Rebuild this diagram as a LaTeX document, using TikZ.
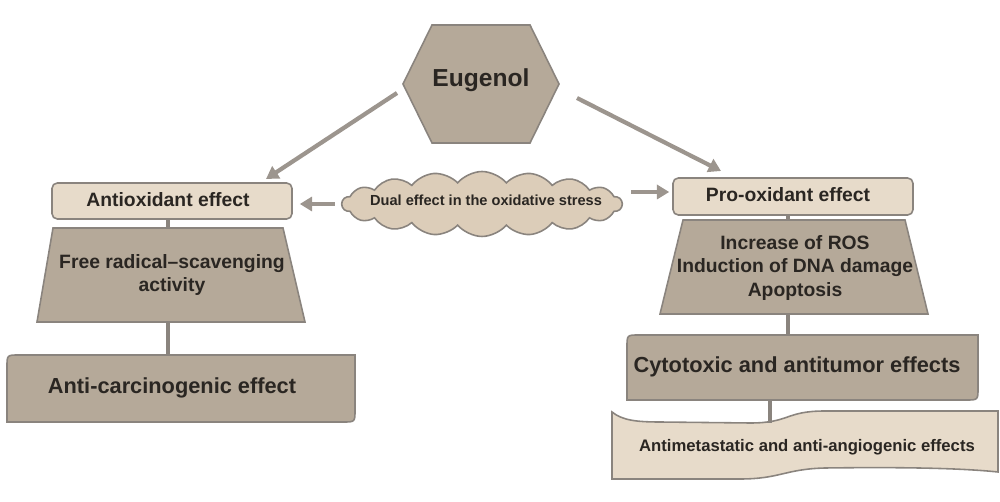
\documentclass[tikz,border=0pt]{standalone}
\usepackage{fontspec}
\setmainfont{Liberation Sans}
\usetikzlibrary{shapes.symbols,arrows.meta,calc}
\definecolor{darktan}{HTML}{B5A999}
\definecolor{lighttan}{HTML}{E7DBCA}
\definecolor{cloudtan}{HTML}{DCCDB9}
\definecolor{edge}{HTML}{8A847E}
\definecolor{arrowgray}{HTML}{9C958E}
\definecolor{txt}{HTML}{2A2622}
\begin{document}
\begin{tikzpicture}[x=0.02cm,y=-0.02cm,
  shapeline/.style={draw=edge, line width=0.9pt},
  lightbox/.style={shapeline, fill=lighttan, rounded corners=3pt, inner sep=0pt},
  darkshape/.style={shapeline, fill=darktan},
  lbl/.style={text=txt, align=center, inner sep=0pt},
  arrowline/.style={draw=arrowgray, line width=2.4pt, -{Triangle[length=7pt,width=8pt]}},
  link/.style={draw=edge, line width=1.8pt}]
\useasboundingbox (0,0) rectangle (1000,502);

% Eugenol hexagon
\path[darkshape] (432,25) -- (530,25) -- (559,84) -- (530,143) -- (432,143) -- (403,84) -- cycle;
\node[lbl, font=\bfseries\fontsize{14}{16}\selectfont] (eugenol) at (481,80) {Eugenol};
\coordinate (eL) at (397,93);
\coordinate (eR) at (577,98);

% cloud
\node[cloud, cloud puffs=18, cloud puff arc=100, aspect=4.1, draw=edge, line width=0.9pt,
      fill=cloudtan, minimum width=5.6cm, minimum height=1.3cm, inner sep=0pt] (cloud) at (482,204) {};
\node[lbl, font=\bfseries\fontsize{8.3}{10}\selectfont] (dual) at (486,200) {Dual effect in the oxidative stress};

% left branch
\node[lightbox, minimum width=4.8cm, minimum height=0.72cm] (antiox) at (172,201) {};
\node[lbl, font=\bfseries\fontsize{11}{13}\selectfont] (antioxt) at (168,200) {Antioxidant effect};
\path[darkshape] (53,228) -- (283,228) -- (305,322) -- (37,322) -- cycle;
\coordinate (tlTop) at (168,228);
\coordinate (tlBot) at (168,322);
\node[lbl, font=\bfseries\fontsize{11}{13.6}\selectfont] (free) at (172,275) {Free radical–scavenging\\activity};
\path[darkshape] (7,422) -- (7,367) .. controls (7,355) .. (19,355) -- (355,355) -- (355,410) .. controls (355,422) .. (343,422) -- cycle;
\coordinate (acTop) at (168,355);
\node[lbl, font=\bfseries\fontsize{12.4}{14}\selectfont] (anticarc) at (172,388) {Anti-carcinogenic effect};

% right branch
\node[lightbox, minimum width=4.8cm, minimum height=0.74cm] (pro) at (793,196.5) {};
\node[lbl, font=\bfseries\fontsize{11}{13}\selectfont] (prot) at (788,195) {Pro-oxidant effect};
\path[darkshape] (683,220) -- (905,220) -- (928,314) -- (660,314) -- cycle;
\coordinate (trTop) at (788,220);
\coordinate (trBot) at (788,314);
\node[lbl, font=\bfseries\fontsize{11}{13.3}\selectfont] (ros) at (795,268) {Increase of ROS\\Induction of DNA damage\\Apoptosis};
\path[darkshape] (627,400) -- (627,347) .. controls (627,335) .. (639,335) -- (978,335) -- (978,388) .. controls (978,400) .. (966,400) -- cycle;
\coordinate (ctTop) at (788,335);
\coordinate (ctBot) at (770,400);
\node[lbl, font=\bfseries\fontsize{12.4}{14}\selectfont] (cyto) at (797,367) {Cytotoxic and antitumor effects};
\path[shapeline, fill=lighttan] (612,412) .. controls (622,420) and (635,422) .. (660,422) -- (750,423)
   .. controls (790,423) and (785,411) .. (825,411) -- (998,411) -- (998,472)
   .. controls (960,468) and (900,467) .. (825,468) .. controls (785,469) and (780,479) .. (740,479) -- (612,479) -- cycle;
\coordinate (bnTop) at (770,423);
\node[lbl, font=\bfseries\fontsize{9.5}{11}\selectfont] (meta) at (807,447) {Antimetastatic and anti-angiogenic effects};

% connectors
\coordinate (aoTip) at (266,179);
\coordinate (poTip) at (721,171);
\draw[arrowline] (eL) -- (aoTip);
\draw[arrowline] (eR) -- (poTip);
\draw[arrowline, shorten <=3.4pt, shorten >=4pt] (cloud.west) -- (cloud.west -| antiox.east);
\draw[arrowline, shorten <=4.5pt, shorten >=1.7pt] ($(cloud.east)+(0,-12)$) -- ($(cloud.east -| pro.west)+(0,-12)$);
\draw[link] (antiox.south -| tlTop) -- (tlTop);
\draw[link] (tlBot) -- (acTop);
\draw[link] (pro.south -| trTop) -- (trTop);
\draw[link] (trBot) -- (ctTop);
\draw[link] (ctBot) -- (bnTop);
\end{tikzpicture}
\end{document}
